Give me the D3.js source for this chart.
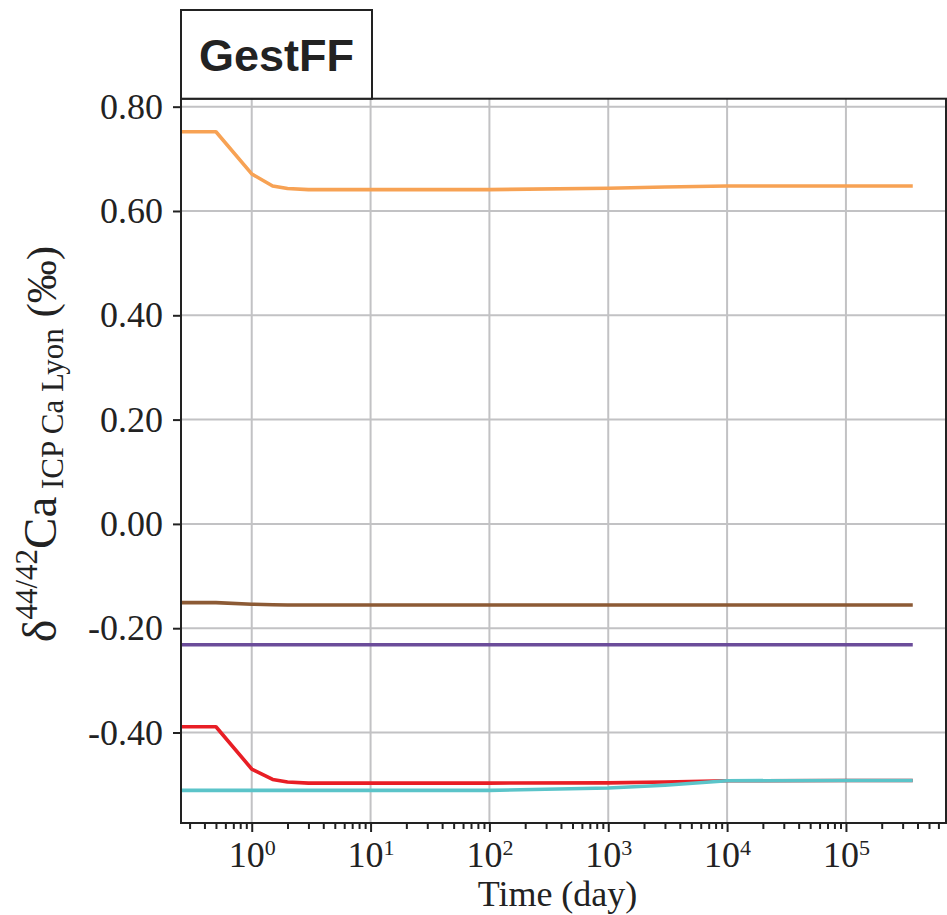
<!DOCTYPE html>
<html><head><meta charset="utf-8">
<script src="https://cdn.jsdelivr.net/npm/d3@7"></script>
<style>body{margin:0;background:#fff}svg{display:block}</style>
</head><body><svg id="c" width="947" height="915"></svg>
<script>
// ---- data ----
const times   = [0.25, 0.5, 1, 1.5, 2, 3, 5, 10, 100, 1000, 3000, 10000, 100000, 365000];
const orange  = [0.752, 0.752, 0.671, 0.648, 0.643, 0.641, 0.641, 0.641, 0.641, 0.6435, 0.646, 0.648, 0.648, 0.648];
const brown   = [-0.151, -0.151, -0.154, -0.155, -0.1555, -0.1555, -0.1555, -0.1555, -0.1555, -0.1555, -0.1555, -0.1555, -0.1555, -0.1555];
const purple  = [-0.2317, -0.2317, -0.2317, -0.2317, -0.2317, -0.2317, -0.2317, -0.2317, -0.2317, -0.2317, -0.2317, -0.2317, -0.2317, -0.2317];
const red     = [-0.389, -0.389, -0.470, -0.490, -0.495, -0.497, -0.497, -0.497, -0.497, -0.4965, -0.495, -0.4925, -0.492, -0.492];
const cyan    = [-0.511, -0.511, -0.511, -0.511, -0.511, -0.511, -0.511, -0.511, -0.511, -0.5065, -0.501, -0.4925, -0.492, -0.492];
const seriesNames  = ["orange", "brown", "purple", "red", "cyan"];
const seriesValues = [orange, brown, purple, red, cyan];
const seriesColors = ["#F7A254", "#8C5A35", "#6B4C9A", "#E81E25", "#5BC4C9"];
const yTicks = [0.8, 0.6, 0.4, 0.2, 0.0, -0.2, -0.4];
const xTicks = [1, 10, 100, 1000, 10000, 100000];
const xTickExp = ["0", "1", "2", "3", "4", "5"];
const title = "GestFF";
const xLabel = "Time (day)";

// ---- layout ----
const L = 181, R = 946, T = 98.7, B = 823;
const svg = d3.select("#c");
const x = d3.scaleLog().domain([0.254, 695000]).range([L, R]);
const y = d3.scaleLinear().domain([-0.5735, 0.8153]).range([B, T]);

// grid
const grid = svg.append("g").attr("stroke", "#c2c2c4").attr("stroke-width", 2);
grid.selectAll(".gx").data(xTicks).join("line")
  .attr("x1", d => x(d)).attr("x2", d => x(d)).attr("y1", T).attr("y2", B);
grid.selectAll(".gy").data(yTicks).join("line")
  .attr("y1", d => y(d)).attr("y2", d => y(d)).attr("x1", L).attr("x2", R);

// lines
svg.append("clipPath").attr("id", "clip").append("rect")
  .attr("x", L).attr("y", T).attr("width", R - L).attr("height", B - T);
const line = d3.line().x((d, i) => x(times[i])).y(d => y(d));
svg.append("g").attr("clip-path", "url(#clip)")
  .selectAll("path").data(seriesValues).join("path")
  .attr("d", d => line(d)).attr("fill", "none")
  .attr("stroke", (d, i) => seriesColors[i]).attr("stroke-width", 3.6)
  .attr("stroke-linejoin", "round");

// frame
svg.append("rect").attr("x", L).attr("y", T).attr("width", R - L).attr("height", B - T)
  .attr("fill", "none").attr("stroke", "#222").attr("stroke-width", 2);

// y axis
const yAxis = d3.axisLeft(y).tickValues(yTicks).tickSize(8).tickPadding(10)
  .tickFormat(d3.format(".2f"));
const gy = svg.append("g").attr("transform", `translate(${L},0)`).call(yAxis);
gy.select(".domain").remove();
gy.selectAll(".tick line").attr("stroke", "#222").attr("stroke-width", 2);
gy.selectAll(".tick text").attr("font-family", "'Liberation Serif', 'Times New Roman', serif")
  .attr("font-size", 36).attr("fill", "#222")
  .text(d => d3.format(".2f")(d).replace("−", "-"));

// x axis: major and minor ticks
const minor = [];
for (let e = -1; e <= 5; e++) for (let m = 2; m <= 9; m++) {
  const v = m * Math.pow(10, e);
  if (v >= 0.254 && v <= 695000) minor.push(v);
}
const xMinor = d3.axisBottom(x).tickValues(minor).tickSize(6).tickFormat("");
const gxm = svg.append("g").attr("transform", `translate(0,${B})`).call(xMinor);
gxm.select(".domain").remove();
gxm.selectAll(".tick line").attr("stroke", "#222").attr("stroke-width", 2);

const xAxis = d3.axisBottom(x).tickValues(xTicks).tickSize(9).tickFormat("");
const gx = svg.append("g").attr("transform", `translate(0,${B})`).call(xAxis);
gx.select(".domain").remove();
gx.selectAll(".tick line").attr("stroke", "#222").attr("stroke-width", 2);
gx.selectAll(".tick").each(function (d, i) {
  const t = d3.select(this).append("text")
    .attr("y", 44).attr("text-anchor", "middle").attr("fill", "#222")
    .attr("font-family", "'Liberation Serif', 'Times New Roman', serif");
  t.append("tspan").attr("font-size", 36).text("10");
  t.append("tspan").attr("font-size", 22).attr("dy", -12).text(xTickExp[i]);
});

// x label
svg.append("text").attr("x", (L + R) / 2 - 6).attr("y", 906).attr("text-anchor", "middle")
  .attr("font-family", "'Liberation Serif', 'Times New Roman', serif")
  .attr("font-size", 36).attr("fill", "#222").text(xLabel);

// y label
const yl = svg.append("text")
  .attr("transform", `translate(56,444) rotate(-90)`)
  .attr("text-anchor", "middle").attr("fill", "#222")
  .attr("font-family", "'Liberation Serif', 'Times New Roman', serif");
yl.append("tspan").attr("font-size", 48).text("δ");
yl.append("tspan").attr("font-size", 31).attr("dy", -19).text("44/42");
yl.append("tspan").attr("font-size", 47).attr("dy", 19).text("Ca");
yl.append("tspan").attr("font-size", 31).attr("dy", 7).text(" ICP Ca Lyon");
yl.append("tspan").attr("font-size", 43).attr("dy", -7).text(" (‰)");

// title box
svg.append("rect").attr("x", 181).attr("y", 10).attr("width", 191).attr("height", 88.7)
  .attr("fill", "#fff").attr("stroke", "#222").attr("stroke-width", 2);
svg.append("text").attr("x", 276.5).attr("y", 71).attr("text-anchor", "middle")
  .attr("font-family", "'Liberation Sans', Arial, sans-serif").attr("font-weight", "bold")
  .attr("font-size", 45).attr("fill", "#222").text(title);
</script>
</body></html>
